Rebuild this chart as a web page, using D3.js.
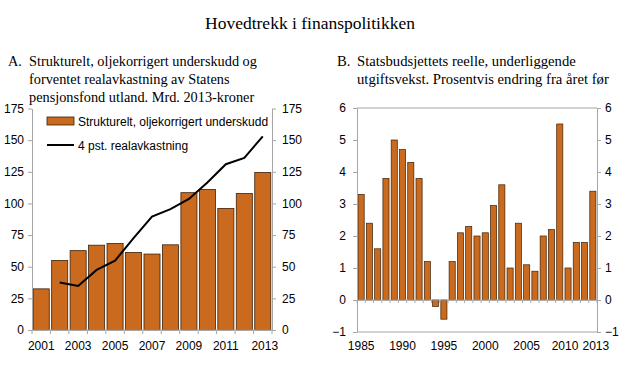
<!DOCTYPE html>
<html><head><meta charset="utf-8">
<script src="https://cdn.jsdelivr.net/npm/d3@7"></script>
<style>body{margin:0;background:#fff}svg{display:block}</style>
</head><body>
<script>
// Panel A data
const yearsA = [2001,2002,2003,2004,2005,2006,2007,2008,2009,2010,2011,2012,2013];
const deficitA = [32.5,55,62.7,67,68.3,61.3,60,67.3,108.5,111,96,107.8,124.5];
const returnYearsA = [2002,2003,2004,2005,2006,2007,2008,2009,2010,2011,2012,2013];
const returnA = [37.5,34.8,47.5,54.8,72.5,89.6,95.5,103.5,116.5,131,136,153];
const ticksA = [0,25,50,75,100,125,150,175];
const xLabelsA = [2001,2003,2005,2007,2009,2011,2013];
// Panel B data
const yearsB = d3.range(1985,2014);
const growthB = [3.3,2.4,1.6,3.8,5.0,4.7,4.3,3.8,1.2,-0.2,-0.6,1.2,2.1,2.3,2.0,2.1,2.95,3.6,1.0,2.4,1.1,0.9,2.0,2.2,5.5,1.0,1.8,1.8,3.4];
const ticksB = [-1,0,1,2,3,4,5,6];
const xLabelsB = [1985,1990,1995,2000,2005,2010,2013];

const W=620,H=379;
const svg=d3.select("body").append("svg").attr("width",W).attr("height",H);
const serif="'Liberation Serif','Times New Roman',serif";
const sans="'Liberation Sans',Arial,sans-serif";
const axisCol="#a6a6a6", barFill="#c96a1f", barStroke="#3d2108";

svg.append("text").attr("x",310).attr("y",29).attr("text-anchor","middle")
  .attr("font-family",serif).attr("font-size",17.5).text("Hovedtrekk i finanspolitikken");

function sub(xA,xT,label,lines,refIdx,target){
  const g=svg.append("g").attr("font-family",serif).attr("font-size",14).attr("fill","#000");
  g.append("text").attr("x",xA).attr("y",66).text(label);
  const ts=lines.map((l,i)=>g.append("text").attr("x",xT).attr("y",66+i*17.8).text(l));
  const w=ts[refIdx].node().getComputedTextLength();
  const fs=Math.min(16,14*target/w);
  g.attr("font-size",fs);
}
sub(8,29,"A.",["Strukturelt, oljekorrigert underskudd og","forventet realavkastning av Statens","pensjonsfond utland. Mrd. 2013-kroner"],0,228);
sub(337,357,"B.",["Statsbudsjettets reelle, underliggende","utgiftsvekst. Prosentvis endring fra året før"],1,252);

function styleAxis(g){g.selectAll("path,line").attr("stroke",axisCol);g.selectAll("text").attr("font-family",sans).attr("font-size",12).attr("fill","#000");}

// ---------- Panel A ----------
const xA=d3.scaleBand().domain(yearsA).range([32,272]).paddingInner(0.13).paddingOuter(0.065);
const yA=d3.scaleLinear().domain([0,175]).range([330,108.5]);
const gA=svg.append("g");
gA.selectAll("rect.bar").data(yearsA).join("rect")
  .attr("x",d=>xA(d)).attr("width",xA.bandwidth())
  .attr("y",(d,i)=>yA(deficitA[i])).attr("height",(d,i)=>yA(0)-yA(deficitA[i]))
  .attr("fill",barFill).attr("stroke",barStroke).attr("stroke-width",0.8);
const line=d3.line().x((d,i)=>xA(returnYearsA[i])+xA.bandwidth()/2).y(d=>yA(d));
gA.append("path").attr("d",line(returnA)).attr("fill","none").attr("stroke","#000").attr("stroke-width",2);

gA.append("g").attr("transform","translate(32,0)").call(d3.axisLeft(yA).tickValues(ticksA).tickSize(4).tickSizeOuter(0).tickPadding(4)).call(styleAxis);
gA.append("g").attr("transform","translate(272,0)").call(d3.axisRight(yA).tickValues(ticksA).tickSize(4).tickSizeOuter(0).tickPadding(6)).call(styleAxis);
gA.append("line").attr("x1",32).attr("x2",272).attr("y1",330).attr("y2",330).attr("stroke",axisCol);
gA.selectAll("line.tk").data(d3.range(yearsA.length+1)).join("line")
  .attr("x1",i=>32+i*(240/yearsA.length)).attr("x2",i=>32+i*(240/yearsA.length))
  .attr("y1",330).attr("y2",334).attr("stroke",axisCol);
gA.selectAll("text.xl").data(xLabelsA).join("text")
  .attr("x",d=>xA(d)+xA.bandwidth()/2+(d===2013?2:0)).attr("y",350).attr("text-anchor","middle")
  .attr("font-family",sans).attr("font-size",12).text(d=>d);
// legend
const lg=gA.append("g").attr("font-family",sans).attr("font-size",12);
lg.append("rect").attr("x",47).attr("y",117).attr("width",27).attr("height",8).attr("fill",barFill).attr("stroke",barStroke).attr("stroke-width",0.8);
lg.append("text").attr("x",78).attr("y",125.5).text("Strukturelt, oljekorrigert underskudd");
lg.append("line").attr("x1",47).attr("x2",74).attr("y1",145).attr("y2",145).attr("stroke","#000").attr("stroke-width",2);
lg.append("text").attr("x",78).attr("y",149.5).text("4 pst. realavkastning");

// ---------- Panel B ----------
const xB=d3.scaleBand().domain(yearsB).range([357,597]).paddingInner(0.26).paddingOuter(0.13);
const yB=d3.scaleLinear().domain([-1,6]).range([332,108]);
const gB=svg.append("g");
gB.selectAll("rect").data(yearsB).join("rect")
  .attr("x",d=>xB(d)).attr("width",xB.bandwidth())
  .attr("y",(d,i)=>yB(Math.max(0,growthB[i]))).attr("height",(d,i)=>Math.abs(yB(growthB[i])-yB(0)))
  .attr("fill",barFill).attr("stroke",barStroke).attr("stroke-width",0.7);
const fmt=d3.format("d");
gB.append("g").attr("transform","translate(357,0)").call(d3.axisLeft(yB).tickValues(ticksB).tickFormat(fmt).tickSize(4).tickSizeOuter(0).tickPadding(7)).call(styleAxis);
gB.append("g").attr("transform","translate(597,0)").call(d3.axisRight(yB).tickValues(ticksB).tickFormat(fmt).tickSize(4).tickSizeOuter(0).tickPadding(4)).call(styleAxis);
gB.append("line").attr("x1",357).attr("x2",597).attr("y1",yB(6)).attr("y2",yB(6)).attr("stroke",axisCol);
gB.append("line").attr("x1",357).attr("x2",597).attr("y1",yB(-1)).attr("y2",yB(-1)).attr("stroke",axisCol);
gB.append("line").attr("x1",357).attr("x2",597).attr("y1",yB(0)).attr("y2",yB(0)).attr("stroke",axisCol);
gB.selectAll("line.tk").data(d3.range(yearsB.length+1)).join("line")
  .attr("x1",i=>357+i*(240/yearsB.length)).attr("x2",i=>357+i*(240/yearsB.length))
  .attr("y1",yB(0)).attr("y2",yB(0)+3).attr("stroke",axisCol);
gB.selectAll("text.xl").data(xLabelsB).join("text")
  .attr("x",d=>xB(d)+xB.bandwidth()/2+(d===2013?3:(d===2010?-3:0))).attr("y",350).attr("text-anchor","middle")
  .attr("font-family",sans).attr("font-size",12).text(d=>d);
</script>
</body></html>
